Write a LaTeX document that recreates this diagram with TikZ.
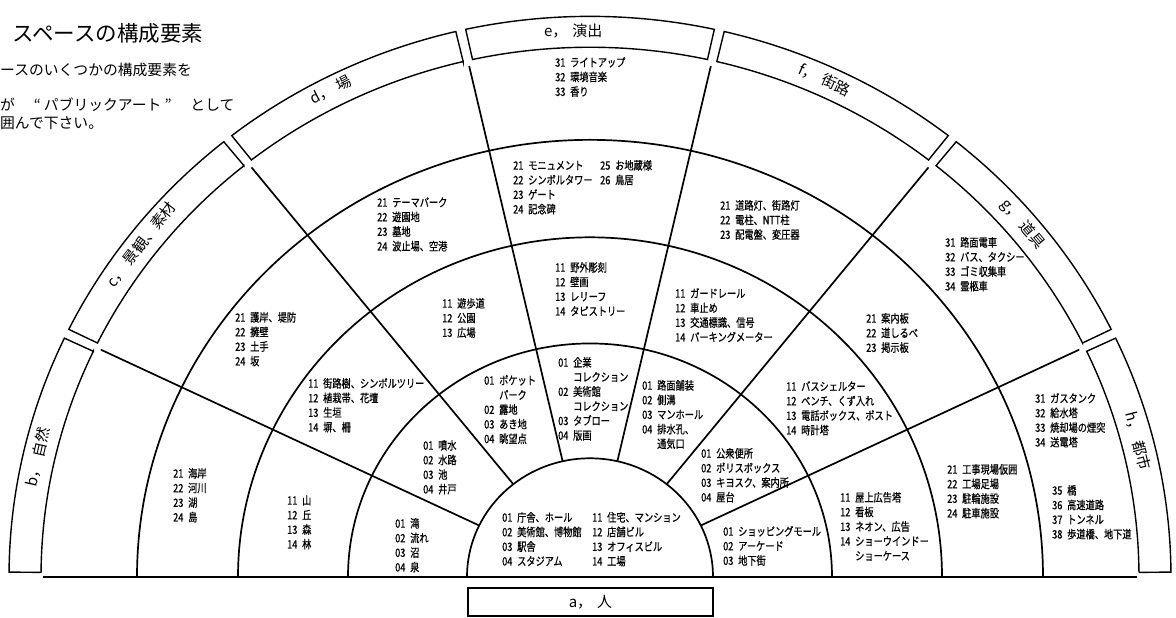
\documentclass[tikz,border=0pt]{standalone}
\usepackage{fontspec}
\setmainfont{Noto Sans CJK JP}
\newfontfamily\jpfont{Noto Sans CJK JP}
\newfontfamily\itemjp[FakeStretch=0.8,FakeBold=0.6]{Noto Sans CJK JP}
\newcommand\itemfont{\itemjp\fontsize{11.5pt}{14.6pt}\selectfont}
\newcommand\bandfont{\jpfont\fontsize{15pt}{18pt}\selectfont}
\newcommand\itmline[2]{\rule{0pt}{10.5pt}\makebox[15pt][l]{#1}#2}
\newcommand\contline[1]{\rule{0pt}{10.5pt}\hspace*{15pt}#1}
\newcommand\bandtext[2]{#1，\kern5pt #2}
\tikzset{
  item/.style={anchor=north west, inner sep=0pt, align=left, font=\itemfont},
  ringarc/.style={line width=1.7pt},
  radial/.style={line width=1.7pt},
  bandbox/.style={line width=1.4pt},
  bandlabel/.style={font=\bandfont, inner sep=0pt},
  groundline/.style={line width=2.6pt},
  titletext/.style={anchor=west, inner sep=0pt}
}
\begin{document}
\begin{tikzpicture}[x=1pt,y=1pt]
\useasboundingbox (0,0) rectangle (1176,618);

% ---------------- geometry (centre of the fan) ----------------
\begin{scope}[shift={(590,41)}]
  \coordinate (ctr) at (0,0);
  % rings
  \foreach \r/\ry in {123/118.70, 242/233.53, 352/339.68, 453/437.15}{
    \draw[ringarc] (\r,0) arc[start angle=0, end angle=180, x radius=\r pt, y radius=\ry pt];
  }
  % radial dividers
  \foreach \k in {1,...,6}{
    \pgfmathsetmacro\a{\k*180/7}
    \draw[radial] ({123*cos(\a)},{0.965*123*sin(\a)}) -- ({543*cos(\a)},{0.965*543*sin(\a)});
  }
  % outer label bands
  \foreach \k in {0,...,6}{
    \pgfmathsetmacro\s{\k*180/7+0.5}
    \pgfmathsetmacro\e{(\k+1)*180/7-0.5}
    \draw[bandbox] ({549*cos(\s)},{0.965*549*sin(\s)}) -- ({581*cos(\s)},{0.965*581*sin(\s)})
      arc[start angle=\s, end angle=\e, x radius=581pt, y radius=560.67pt]
      -- ({549*cos(\e)},{0.965*549*sin(\e)})
      arc[start angle=\e, end angle=\s, x radius=549pt, y radius=529.79pt] -- cycle;
  }
  % ground line
  \coordinate (gl) at (-547,0);
  \coordinate (gr) at (547,0);
  \draw[groundline] (gl) -- (gr);
  % band labels
  \node[bandlabel, rotate=77.3]  (lb) at ({566*cos(167.3)},{0.965*566*sin(167.3)}) {\bandtext{b}{自然}};
  \node[bandlabel, rotate=52.5]  (lc) at ({566*cos(142.5)},{0.965*566*sin(142.5)}) {\bandtext{c}{景観、素材}};
  \node[bandlabel, rotate=26.9]  (ld) at ({566*cos(117.3)},{0.965*568*sin(117.3)}) {\bandtext{d}{場}};
  \node[bandlabel]               (le) at ({566*cos(91.7)},{0.965*566*sin(91.7)}) {\bandtext{e}{演出}};
  \node[bandlabel, rotate=-24.5] (lf) at ({566*cos(65.5)},{0.965*566*sin(65.5)}) {\bandtext{f}{街路}};
  \node[bandlabel, rotate=-49.8] (lg) at ({566*cos(40.2)},{0.965*566*sin(40.2)}) {\bandtext{g}{道具}};
  \node[bandlabel, rotate=-75.6] (lh) at ({566*cos(14.4)},{0.965*566*sin(14.4)}) {\bandtext{h}{都市}};
\end{scope}

% ---------------- texts in pixel coordinates (y downwards) ----------------
\begin{scope}[shift={(0,618)}, y=-1pt]
  % title block
  \node[titletext, font=\jpfont\fontsize{21.5pt}{24pt}\selectfont] (title) at (12,33) {スペースの構成要素};
  \node[titletext, font=\jpfont\fontsize{14.8pt}{17pt}\selectfont] (tl2) at (0,70) {ースのいくつかの構成要素を};
  \node[titletext, font=\jpfont\fontsize{14.8pt}{17pt}\selectfont] (tl3) at (0,105) {が\makebox[29pt][r]{“\hspace{3pt}}パブリックアート\makebox[29pt][l]{\hspace{3pt}”}として};
  \node[titletext, font=\jpfont\fontsize{14.8pt}{17pt}\selectfont] (tl4) at (0,123) {囲んで下さい。};

  % a box
  \node[draw, line width=1.4pt, minimum width=245pt, minimum height=28pt, inner sep=0pt, font=\bandfont] (abox) at (590.5,602) {\bandtext{a}{人}};

  % ring 1 (a)
  \node[item] (a1) at (502,511) {\itmline{01}{庁舎、ホール}\\\itmline{02}{美術館、博物館}\\\itmline{03}{駅舎}\\\itmline{04}{スタジアム}};
  \node[item] (a2) at (592,511) {\itmline{11}{住宅、マンション}\\\itmline{12}{店舗ビル}\\\itmline{13}{オフィスビル}\\\itmline{14}{工場}};

  % ring 2
  \node[item] (b2) at (395,517) {\itmline{01}{滝}\\\itmline{02}{流れ}\\\itmline{03}{沼}\\\itmline{04}{泉}};
  \node[item] (c2) at (423,439) {\itmline{01}{噴水}\\\itmline{02}{水路}\\\itmline{03}{池}\\\itmline{04}{井戸}};
  \node[item] (d2) at (484,374) {\itmline{01}{ポケット}\\\contline{パーク}\\\itmline{02}{露地}\\\itmline{03}{あき地}\\\itmline{04}{眺望点}};
  \node[item] (e2) at (558,356) {\itmline{01}{企業}\\\contline{コレクション}\\\itmline{02}{美術館}\\\contline{コレクション}\\\itmline{03}{タブロー}\\\itmline{04}{版画}};
  \node[item] (f2) at (642,379) {\itmline{01}{路面舗装}\\\itmline{02}{側溝}\\\itmline{03}{マンホール}\\\itmline{04}{排水孔、}\\\contline{通気口}};
  \node[item] (g2) at (701,447) {\itmline{01}{公衆便所}\\\itmline{02}{ポリスボックス}\\\itmline{03}{キヨスク、案内所}\\\itmline{04}{屋台}};
  \node[item] (h2) at (723,525) {\itmline{01}{ショッピングモール}\\\itmline{02}{アーケード}\\\itmline{03}{地下街}};

  % ring 3
  \node[item] (b3) at (287,494) {\itmline{11}{山}\\\itmline{12}{丘}\\\itmline{13}{森}\\\itmline{14}{林}};
  \node[item] (c3) at (308,377) {\itmline{11}{街路樹、シンボルツリー}\\\itmline{12}{植栽帯、花壇}\\\itmline{13}{生垣}\\\itmline{14}{塀、柵}};
  \node[item] (d3) at (442,297) {\itmline{11}{遊歩道}\\\itmline{12}{公園}\\\itmline{13}{広場}};
  \node[item] (e3) at (555,261) {\itmline{11}{野外彫刻}\\\itmline{12}{壁画}\\\itmline{13}{レリーフ}\\\itmline{14}{タピストリー}};
  \node[item] (f3) at (675,287) {\itmline{11}{ガードレール}\\\itmline{12}{車止め}\\\itmline{13}{交通標識、信号}\\\itmline{14}{パーキングメーター}};
  \node[item] (g3) at (786,380) {\itmline{11}{バスシェルター}\\\itmline{12}{ベンチ、くず入れ}\\\itmline{13}{電話ボックス、ポスト}\\\itmline{14}{時計塔}};
  \node[item] (h3) at (840,491) {\itmline{11}{屋上広告塔}\\\itmline{12}{看板}\\\itmline{13}{ネオン、広告}\\\itmline{14}{ショーウインドー}\\\contline{ショーケース}};

  % ring 4
  \node[item] (b4) at (173,467) {\itmline{21}{海岸}\\\itmline{22}{河川}\\\itmline{23}{湖}\\\itmline{24}{島}};
  \node[item] (c4) at (235,311) {\itmline{21}{護岸、堤防}\\\itmline{22}{擁壁}\\\itmline{23}{土手}\\\itmline{24}{坂}};
  \node[item] (d4) at (377,196) {\itmline{21}{テーマパーク}\\\itmline{22}{遊園地}\\\itmline{23}{墓地}\\\itmline{24}{波止場、空港}};
  \node[item] (e4a) at (513,159) {\itmline{21}{モニュメント}\\\itmline{22}{シンボルタワー}\\\itmline{23}{ゲート}\\\itmline{24}{記念碑}};
  \node[item] (e4b) at (600,159) {\itmline{25}{お地蔵様}\\\itmline{26}{鳥居}};
  \node[item] (f4) at (720,199) {\itmline{21}{道路灯、街路灯}\\\itmline{22}{電柱、NTT柱}\\\itmline{23}{配電盤、変圧器}};
  \node[item] (g4) at (866,312) {\itmline{21}{案内板}\\\itmline{22}{道しるべ}\\\itmline{23}{掲示板}};
  \node[item] (h4) at (947,463) {\itmline{21}{工事現場仮囲}\\\itmline{22}{工場足場}\\\itmline{23}{駐輪施設}\\\itmline{24}{駐車施設}};

  % ring 5
  \node[item] (e5) at (555,56) {\itmline{31}{ライトアップ}\\\itmline{32}{環境音楽}\\\itmline{33}{香り}};
  \node[item] (g5) at (945,236) {\itmline{31}{路面電車}\\\itmline{32}{バス、タクシー}\\\itmline{33}{ゴミ収集車}\\\itmline{34}{霊柩車}};
  \node[item] (h5a) at (1035,392) {\itmline{31}{ガスタンク}\\\itmline{32}{給水塔}\\\itmline{33}{焼却場の煙突}\\\itmline{34}{送電塔}};
  \node[item] (h5b) at (1052,484) {\itmline{35}{橋}\\\itmline{36}{高速道路}\\\itmline{37}{トンネル}\\\itmline{38}{歩道橋、地下道}};
\end{scope}
\end{tikzpicture}
\end{document}
